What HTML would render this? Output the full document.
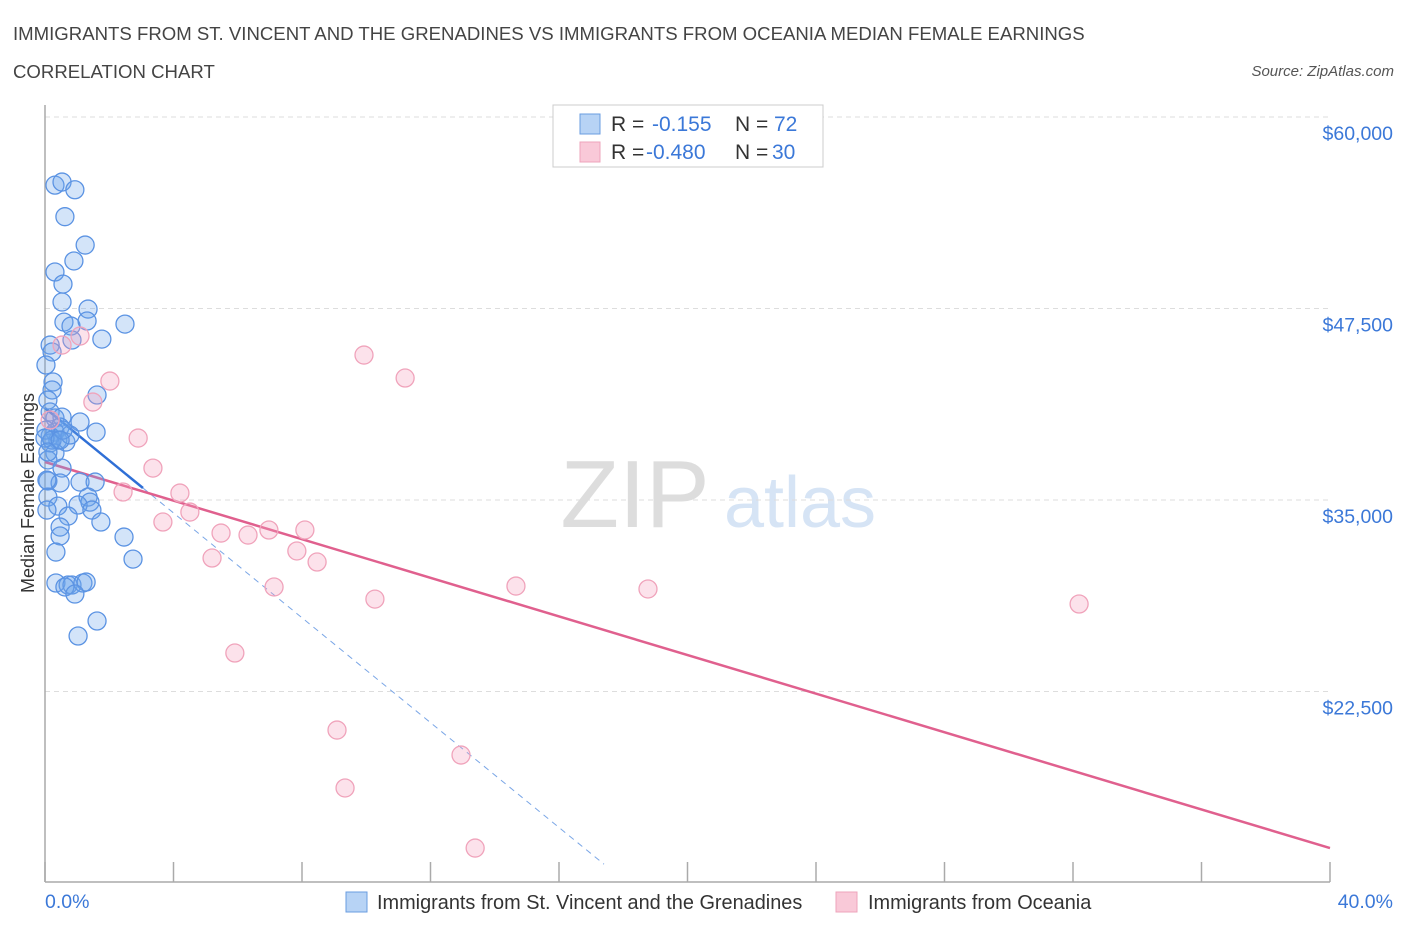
<!DOCTYPE html>
<html><head><meta charset="utf-8"><style>
body{margin:0;background:#fff;font-family:"Liberation Sans",sans-serif}
svg text{font-family:"Liberation Sans",sans-serif}
</style></head><body>
<svg id="chart" width="1406" height="930" xmlns="http://www.w3.org/2000/svg">
<text x="13" y="40" font-size="18.6" fill="#444">IMMIGRANTS FROM ST. VINCENT AND THE GRENADINES VS IMMIGRANTS FROM OCEANIA MEDIAN FEMALE EARNINGS</text>
<text x="13" y="78" font-size="18.6" fill="#444">CORRELATION CHART</text>
<text x="1394" y="76" font-size="15" fill="#555" text-anchor="end" font-style="italic">Source: ZipAtlas.com</text>
<g>
<text x="635" y="527" font-size="96" fill="#ddd" font-family="Liberation Serif" text-anchor="middle">ZIP</text>
<text x="800" y="527" font-size="72" fill="#d6e4f5" text-anchor="middle">atlas</text>
</g>
<g id="grid"></g><g id="axes"></g><g id="trends"></g><g id="points"></g>
<text transform="translate(34,493) rotate(-90)" font-size="18" fill="#333" text-anchor="middle">Median Female Earnings</text>
<text x="45" y="908" font-size="19.5" fill="#3b78d8">0.0%</text>
<text x="1393" y="908" font-size="19.5" fill="#3b78d8" text-anchor="end">40.0%</text>
<g>
<rect x="553" y="105" width="270" height="62" fill="#fff" stroke="#ccc"/>
<rect x="580" y="114" width="20" height="20" fill="#b7d3f5" stroke="#6a9de0"/>
<rect x="580" y="142" width="20" height="20" fill="#f9c9d8" stroke="#eea4bb"/>
<text x="611" y="131" font-size="21" fill="#333">R =</text><text x="652" y="131" font-size="21" fill="#3b78d8">-0.155</text>
<text x="735" y="131" font-size="21" fill="#333">N =</text><text x="774" y="131" font-size="21" fill="#3b78d8">72</text>
<text x="611" y="159" font-size="21" fill="#333">R =</text><text x="646" y="159" font-size="21" fill="#3b78d8">-0.480</text>
<text x="735" y="159" font-size="21" fill="#333">N =</text><text x="772" y="159" font-size="21" fill="#3b78d8">30</text>
</g>
<g>
<rect x="346" y="892" width="21" height="20" fill="#b7d3f5" stroke="#6a9de0"/>
<text x="377" y="909" font-size="19.9" fill="#333">Immigrants from St. Vincent and the Grenadines</text>
<rect x="836" y="892" width="21" height="20" fill="#f9c9d8" stroke="#eea4bb"/>
<text x="868" y="909" font-size="19.9" fill="#333">Immigrants from Oceania</text>
</g>
</svg>
<script>
const blueX=[0.31,0.53,0.93,0.62,1.25,0.90,0.31,0.56,0.53,1.34,0.59,0.81,1.31,2.49,1.77,0.84,0.16,0.22,0.03,0.25,0.22,1.62,0.09,0.16,0.31,0.53,1.09,0.47,0.31,0.16,0.40,1.59,0.65,0.16,0.31,0.09,0.53,0.09,0.47,1.09,1.56,0.09,1.34,1.40,1.03,1.46,0.40,0.72,1.74,0.47,0.47,2.46,0.34,2.74,0.34,0.72,0.84,1.18,1.28,0.62,0.93,1.62,1.03,0.06,0.06,0.03,0.22,0.00,0.78,0.09,0.56,0.47];
const blueY=[55552,55752,55252,53492,51642,50602,49882,49092,47922,47462,46612,46352,46682,46482,45502,45442,45112,44662,43812,42702,42182,41852,41522,40742,40352,40412,40092,39762,39432,39172,38912,39432,38782,38722,38062,37612,37082,36242,36112,36172,36172,35192,35192,34862,34672,34342,34602,33952,33562,33232,32652,32582,31602,31142,29582,29452,29452,29582,29642,29322,28862,27102,26122,36302,34342,39562,38912,39042,39242,38132,39562,38912];
const pinkX=[0.53,1.09,1.49,2.02,2.90,3.36,2.43,4.20,3.67,4.51,5.48,6.32,6.97,8.09,7.84,5.20,8.47,7.13,9.93,11.21,10.27,14.66,18.77,32.19,5.91,9.09,9.34,12.95,13.39,0.16];
const pinkY=[45112,45702,41392,42762,39042,37082,35522,35452,33562,34212,32842,32712,33042,33042,31672,31212,30952,29322,44462,42962,28532,29382,29192,28212,25012,19982,16202,18352,12282,40222];
const blueTrend=[41000,-1711], blueSolidEnd=3.05, blueDashEnd=17.4;
const pinkTrend=[37480,-630];
const yTicks=[60000,47500,35000,22500];
const yTickLabels=["$60,000","$47,500","$35,000","$22,500"];
const xTicks=[0,4,8,12,16,20,24,28,32,36,40];
const NS="http://www.w3.org/2000/svg";
const X=p=>45+p*(1285/40);
const Y=v=>117+(60000-v)*191.5/12500;
function mk(tag,attrs,parent){const e=document.createElementNS(NS,tag);for(const k in attrs)e.setAttribute(k,attrs[k]);document.getElementById(parent).appendChild(e);return e;}
yTicks.forEach((t,i)=>{
 const g=mk('line',{x1:45,x2:1330,y1:Y(t),y2:Y(t),stroke:'#ddd','stroke-dasharray':'5,4'},'grid');
 
 
 const l=mk('text',{x:1393,y:Y(t)+23,'font-size':19.5,fill:'#3b78d8','text-anchor':'end'},'grid');
 l.textContent=yTickLabels[i];
 
 
});
const ax=mk('line',{x1:45,x2:45,y1:105,y2:882,stroke:'#aaa','stroke-width':1.5},'axes');


const bx=mk('line',{x1:45,x2:1330,y1:882,y2:882,stroke:'#aaa','stroke-width':1.5},'axes');


xTicks.forEach(t=>{
 const k=mk('line',{x1:X(t),x2:X(t),y1:862,y2:882,stroke:'#aaa','stroke-width':1.5},'axes');
 
 
});
const f=(tr,p)=>tr[0]+tr[1]*p;
let e=mk('line',{x1:X(blueSolidEnd),y1:Y(f(blueTrend,blueSolidEnd)),x2:X(blueDashEnd),y2:Y(f(blueTrend,blueDashEnd)),stroke:'#7aa6e6','stroke-width':1,'stroke-dasharray':'6,5'},'trends');


e=mk('line',{x1:X(0),y1:Y(f(pinkTrend,0)),x2:X(40),y2:Y(f(pinkTrend,40)),stroke:'#e0608e','stroke-width':2.5},'trends');


e=mk('line',{x1:X(0),y1:Y(f(blueTrend,0)),x2:X(blueSolidEnd),y2:Y(f(blueTrend,blueSolidEnd)),stroke:'#2f6fd6','stroke-width':2.5},'trends');


blueX.forEach((x,i)=>{
 const c=mk('circle',{cx:X(x),cy:Y(blueY[i]),r:9,fill:'rgba(110,165,235,0.3)',stroke:'#5b93e3','stroke-width':1.3},'points');
 
 
});
pinkX.forEach((x,i)=>{
 const c=mk('circle',{cx:X(x),cy:Y(pinkY[i]),r:9,fill:'rgba(245,160,190,0.3)',stroke:'#f0a3bb','stroke-width':1.3},'points');
 
 
});
</script>
</body></html>
